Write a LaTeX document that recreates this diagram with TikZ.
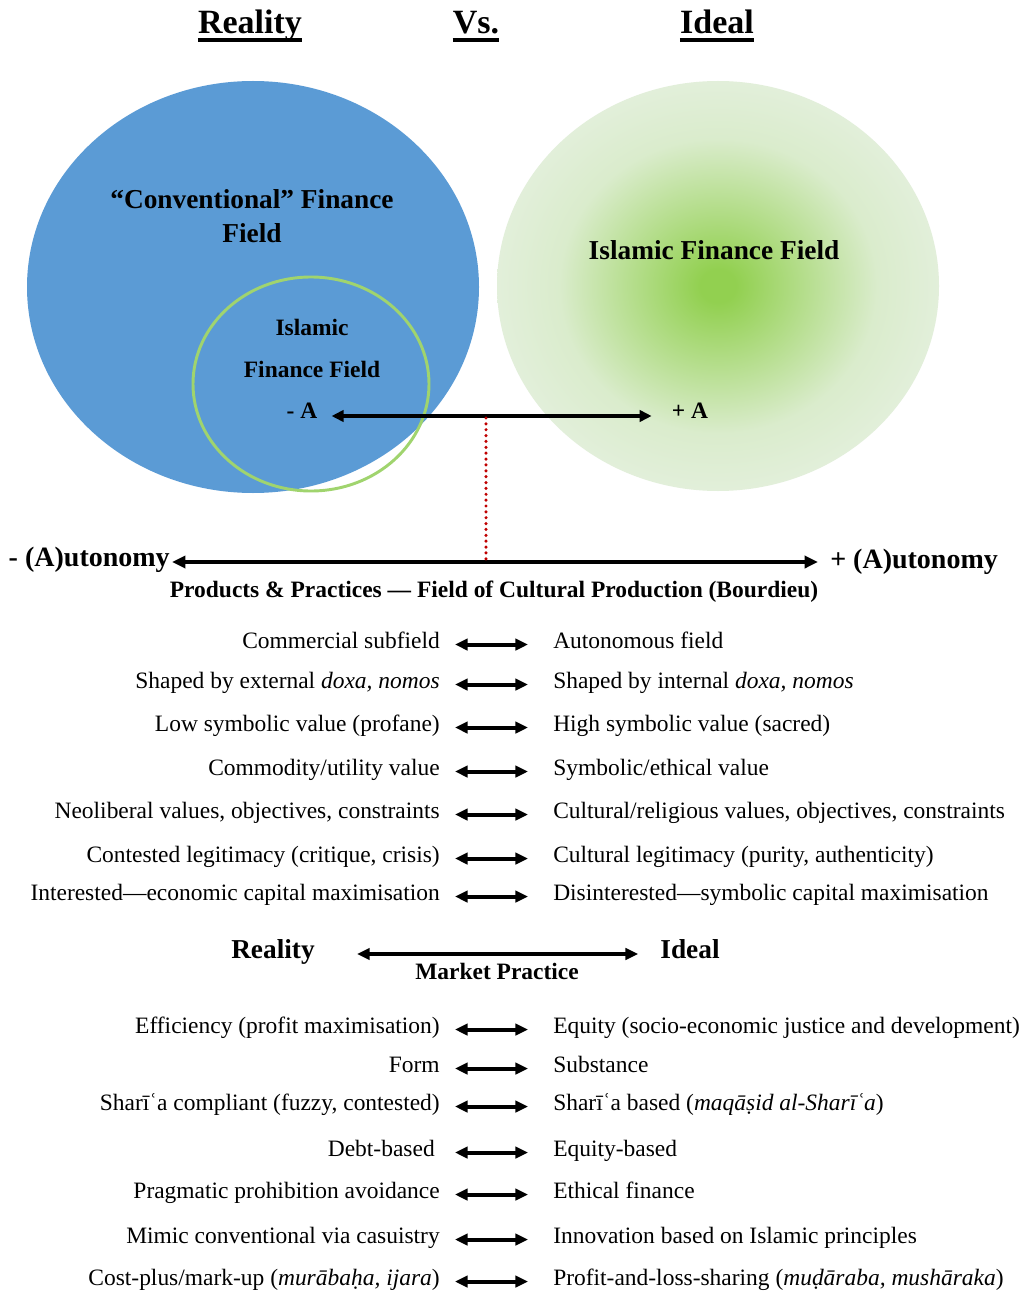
\documentclass[tikz,border=0pt]{standalone}
\usepackage{fontspec}
\setmainfont{Liberation Serif}
\usetikzlibrary{arrows.meta}
\definecolor{cblue}{RGB}{91,155,213}
\definecolor{cgreen}{RGB}{146,208,80}
\definecolor{cpale}{RGB}{226,239,218}
\definecolor{cring}{RGB}{160,212,110}
\definecolor{cred}{RGB}{192,0,0}
\pgfdeclareradialshading{greenball}{\pgfpoint{0bp}{0bp}}{color(0bp)=(cgreen); color(2bp)=(cgreen); color(10bp)=(cgreen!55!cpale); color(18bp)=(cpale!90!cgreen); color(25bp)=(cpale); color(50bp)=(cpale)}
\begin{document}
\begin{tikzpicture}[x=0.75pt,y=-0.75pt,
  titletext/.style={font=\fontsize{25.5}{30}\selectfont\bfseries, inner sep=0pt, anchor=base},
  bigbold/.style={font=\fontsize{20.5}{24}\selectfont\bfseries, inner sep=0pt, anchor=base},
  autbold/.style={font=\fontsize{21}{25}\selectfont\bfseries, inner sep=0pt},
  midbold/.style={font=\fontsize{17.6}{21}\selectfont\bfseries, inner sep=0pt, anchor=base},
  lefttext/.style={font=\fontsize{17.6}{21}\selectfont, inner sep=0pt, text height=0.72em, text depth=0.2em, anchor=base east},
  righttext/.style={font=\fontsize{17.6}{21}\selectfont, inner sep=0pt, text height=0.72em, text depth=0.2em, anchor=base west},
  rowarrow/.style={{Triangle[length=9.5pt,width=8.5pt]}-{Triangle[length=9.5pt,width=8.5pt]}, line width=3pt},
  aarrow/.style={{Triangle[length=9pt,width=8.5pt]}-{Triangle[length=9pt,width=8.5pt]}, line width=2.4pt},
  bigarrow/.style={{Triangle[length=10pt,width=9pt]}-{Triangle[length=10pt,width=9pt]}, line width=3pt},
  ulineS/.style={line width=3pt},
  dotline/.style={cred, line width=2.6pt, line cap=round, dash pattern=on 0pt off 4.4pt}
]
\useasboundingbox[fill=white] (0,0) rectangle (1026,1294);

% titles
\node[titletext] (tR) at (250,34) {Reality};
\node[titletext] (tV) at (476,34) {Vs.};
\node[titletext] (tI) at (717,34) {Ideal};
\foreach \t in {tR,tV,tI}
  \draw[ulineS] ([yshift=-4.5pt]\t.base west) -- ([yshift=-4.5pt]\t.base east);

% circles
\fill[cblue] (253,287) ellipse [x radius=226, y radius=206];
\shade[shading=greenball] (718,286) ellipse [x radius=221, y radius=205];
\draw[cring, line width=2.2pt] (311,384) ellipse [x radius=118, y radius=107];

\node[bigbold] (cv1) at (252,209) {“Conventional” Finance};
\node[bigbold] (cv2) at (252,243) {Field};
\node[midbold] (in1) at (312,335) {Islamic};
\node[midbold] (in2) at (312,377) {Finance Field};
\node[bigbold] (isl) at (714,260) {Islamic Finance Field};
\node[midbold] (mA) at (302,418) {- A};
\node[midbold] (pA) at (690,418) {+ A};
\draw[aarrow] ([shift={(14,-2)}]mA.base east) -- ([shift={(-20,-2)}]pA.base west);

% autonomy axis
\node[autbold, anchor=base east] (auL) at (170,566) {- (A)utonomy};
\node[autbold, anchor=base west] (auR) at (830,568) {+ (A)utonomy};
\draw[bigarrow] ([shift={(2,-4)}]auL.base east) -- ([shift={(-12,-6)}]auR.base west);
\coordinate (d1) at (486,418);
\coordinate (d2) at (486,559);
\draw[dotline] (d1) -- (d2);
\node[midbold] (pp) at (494,597) {Products \& Practices — Field of Cultural Production (Bourdieu)};

% group 1
\node[lefttext] (l1) at (440,648) {Commercial subfield};
\node[righttext] (r1) at (553,648) {Autonomous field};
\node[lefttext] (l2) at (440,688) {Shaped by external \textit{doxa, nomos}};
\node[righttext] (r2) at (553,688) {Shaped by internal \textit{doxa, nomos}};
\node[lefttext] (l3) at (440,731) {Low symbolic value (profane)};
\node[righttext] (r3) at (553,731) {High symbolic value (sacred)};
\node[lefttext] (l4) at (440,775) {Commodity/utility value};
\node[righttext] (r4) at (553,775) {Symbolic/ethical value};
\node[lefttext] (l5) at (440,818) {Neoliberal values, objectives, constraints};
\node[righttext] (r5) at (553,818) {Cultural/religious values, objectives, constraints};
\node[lefttext] (l6) at (440,862) {Contested legitimacy (critique, crisis)};
\node[righttext] (r6) at (553,862) {Cultural legitimacy (purity, authenticity)};
\node[lefttext] (l7) at (440,900) {Interested—economic capital maximisation};
\node[righttext] (r7) at (553,900) {Disinterested—symbolic capital maximisation};

% market practice
\node[bigbold] (rR) at (273,958) {Reality};
\node[bigbold] (rI) at (690,958) {Ideal};
\draw[rowarrow] ([shift={(42,-4)}]rR.base east) -- ([shift={(-22,-4)}]rI.base west);
\node[midbold] (mp) at (497,979) {Market Practice};

% group 2
\node[lefttext] (m1) at (440,1033) {Efficiency (profit maximisation)};
\node[righttext] (s1) at (553,1033) {Equity (socio-economic justice and development)};
\node[lefttext] (m2) at (440,1072) {Form};
\node[righttext] (s2) at (553,1072) {Substance};
\node[lefttext] (m3) at (440,1110) {Sharīʿa compliant (fuzzy, contested)};
\node[righttext] (s3) at (553,1110) {Sharīʿa based (\textit{maqāṣid al-Sharīʿa})};
\node[lefttext] (m4) at (435,1156) {Debt-based};
\node[righttext] (s4) at (553,1156) {Equity-based};
\node[lefttext] (m5) at (440,1198) {Pragmatic prohibition avoidance};
\node[righttext] (s5) at (553,1198) {Ethical finance};
\node[lefttext] (m6) at (440,1243) {Mimic conventional via casuistry};
\node[righttext] (s6) at (553,1243) {Innovation based on Islamic principles};
\node[lefttext] (m7) at (440,1285) {Cost-plus/mark-up (\textit{murābaḥa, ijara})};
\node[righttext] (s7) at (553,1285) {Profit-and-loss-sharing (\textit{muḍāraba, mushāraka})};

\foreach \a/\b in {l1/r1,l2/r2,l3/r3,l4/r4,l5/r5,l6/r6,l7/r7,m1/s1,m2/s2,m3/s3,m5/s5,m6/s6,m7/s7}
  \draw[rowarrow] ([xshift=11.25pt]\a.east) -- ([xshift=-18.75pt]\b.west);
\draw[rowarrow] ([xshift=15pt]m4.east) -- ([xshift=-18.75pt]s4.west);
\end{tikzpicture}
\end{document}
